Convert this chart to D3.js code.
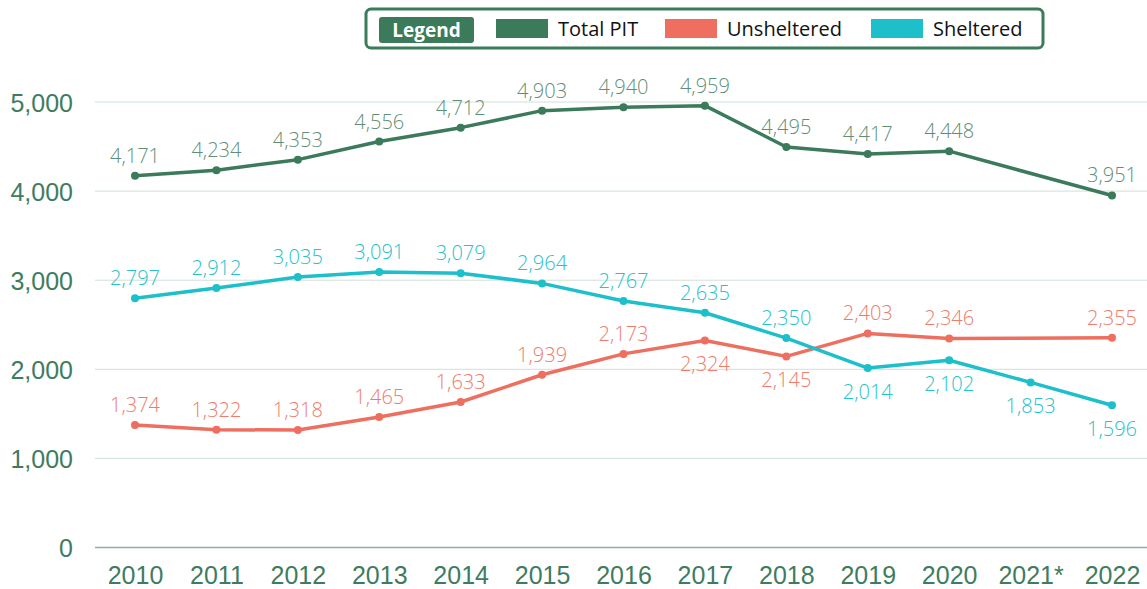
<!DOCTYPE html>
<html>
<head>
<meta charset="utf-8">
<script src="https://cdn.jsdelivr.net/npm/d3@7"></script>
<style>
  html, body { margin: 0; padding: 0; background: #fff; }
  svg { display: block; }
</style>
</head>
<body>
<div id="chart"></div>
<script>
// Years on the x axis (2021 only has a sheltered count)
const years = ["2010", "2011", "2012", "2013", "2014", "2015", "2016", "2017", "2018", "2019", "2020", "2021*", "2022"];

// null = no count that year
const totalPit    = [4171, 4234, 4353, 4556, 4712, 4903, 4940, 4959, 4495, 4417, 4448, null, 3951];
const unsheltered = [1374, 1322, 1318, 1465, 1633, 1939, 2173, 2324, 2145, 2403, 2346, null, 2355];
const sheltered   = [2797, 2912, 3035, 3091, 3079, 2964, 2767, 2635, 2350, 2014, 2102, 1853, 1596];

// which labels sit under the point instead of above
const unshelteredBelow = ["2017", "2018"];
const shelteredBelow = ["2019", "2020", "2021*", "2022"];

const yTicks = [0, 1000, 2000, 3000, 4000, 5000];

const width = 1147, height = 589;

const svg = d3.select('#chart').append('svg')
    .attr('width', width)
    .attr('height', height);

const x = d3.scalePoint()
    .domain(years)
    .range([135, 1112]);

const y = d3.scaleLinear()
    .domain([0, 5000])
    .range([547.5, 102]);

// gridlines
svg.append('g')
    .selectAll('line')
    .data(yTicks)
    .enter()
    .append('line')
    .attr('x1', 95)
    .attr('x2', width)
    .attr('y1', d => y(d))
    .attr('y2', d => y(d))
    .attr('stroke', d => d === 0 ? '#8fae9e' : '#cfe0d8')
    .attr('stroke-width', d => d === 0 ? 1.3 : 1);

// y axis labels
const yAxis = d3.axisLeft(y)
    .tickValues(yTicks)
    .tickFormat(d3.format(','))
    .tickSize(0)
    .tickPadding(0);

const yg = svg.append('g')
    .attr('transform', 'translate(73,0)')
    .call(yAxis);
yg.select('.domain').remove();
yg.selectAll('text')
    .attr('dy', '0.36em')
    .style('fill', '#3e7c5f')
    .style('font-size', '25px')
    .style('font-family', 'Liberation Sans, Arial, sans-serif');

// x axis labels
const xAxis = d3.axisBottom(x).tickSize(0).tickPadding(0);
const xg = svg.append('g')
    .attr('transform', 'translate(0,566)')
    .call(xAxis);
xg.select('.domain').remove();
xg.selectAll('text')
    .attr('dy', '0.71em')
    .style('fill', '#3e7c5f')
    .style('font-size', '25px')
    .style('font-family', 'Liberation Sans, Arial, sans-serif');

const series = [
    { name: 'Total PIT', values: totalPit, color: '#3b7a5b', label: '#5f8f78', below: [] },
    { name: 'Unsheltered', values: unsheltered, color: '#ee6f5f', label: '#ef7b6b', below: unshelteredBelow },
    { name: 'Sheltered', values: sheltered, color: '#1cbfca', label: '#25c2cc', below: shelteredBelow }
];

const line = d3.line()
    .x(d => x(d.year))
    .y(d => y(d.value));

series.forEach(s => {
    const pts = years.map((yr, i) => ({ year: yr, value: s.values[i] }))
        .filter(d => d.value !== null);

    svg.append('path')
        .datum(pts)
        .attr('d', line)
        .attr('fill', 'none')
        .attr('stroke', s.color)
        .attr('stroke-width', 3.5)
        .attr('stroke-linejoin', 'round');

    svg.append('g')
        .selectAll('circle')
        .data(pts)
        .enter()
        .append('circle')
        .attr('cx', d => x(d.year))
        .attr('cy', d => y(d.value))
        .attr('r', 4)
        .attr('fill', s.color);

    svg.append('g')
        .selectAll('text')
        .data(pts)
        .enter()
        .append('text')
        .attr('x', d => x(d.year))
        .attr('y', d => s.below.includes(d.year) ? y(d.value) + 31 : y(d.value) - 13)
        .attr('text-anchor', 'middle')
        .style('fill', s.label)
        .style('font-size', '20px')
        .style('font-weight', '300')
        .style('font-family', 'Open Sans, sans-serif')
        .text(d => d3.format(',')(d.value));
});

// legend
const legend = svg.append('g');

legend.append('rect')
    .attr('x', 366)
    .attr('y', 9)
    .attr('width', 677)
    .attr('height', 39)
    .attr('rx', 5)
    .attr('fill', '#fff')
    .attr('stroke', '#3b7a5b')
    .attr('stroke-width', 3);

legend.append('rect')
    .attr('x', 379)
    .attr('y', 17)
    .attr('width', 95)
    .attr('height', 26)
    .attr('rx', 3)
    .attr('fill', '#3b7a5b');

legend.append('text')
    .attr('x', 426.5)
    .attr('y', 37)
    .attr('text-anchor', 'middle')
    .style('fill', '#fff')
    .style('font-size', '19px')
    .style('font-weight', 'bold')
    .style('font-family', 'Open Sans, sans-serif')
    .text('Legend');

const legendX = [496, 665, 871];
series.forEach((s, i) => {
    legend.append('rect')
        .attr('x', legendX[i])
        .attr('y', 19)
        .attr('width', 52)
        .attr('height', 19)
        .attr('fill', s.color);

    legend.append('text')
        .attr('x', legendX[i] + 62)
        .attr('y', 36)
        .style('fill', '#111')
        .style('font-size', '20px')
        .style('font-family', 'Open Sans, sans-serif')
        .text(s.name);
});
</script>
</body>
</html>
